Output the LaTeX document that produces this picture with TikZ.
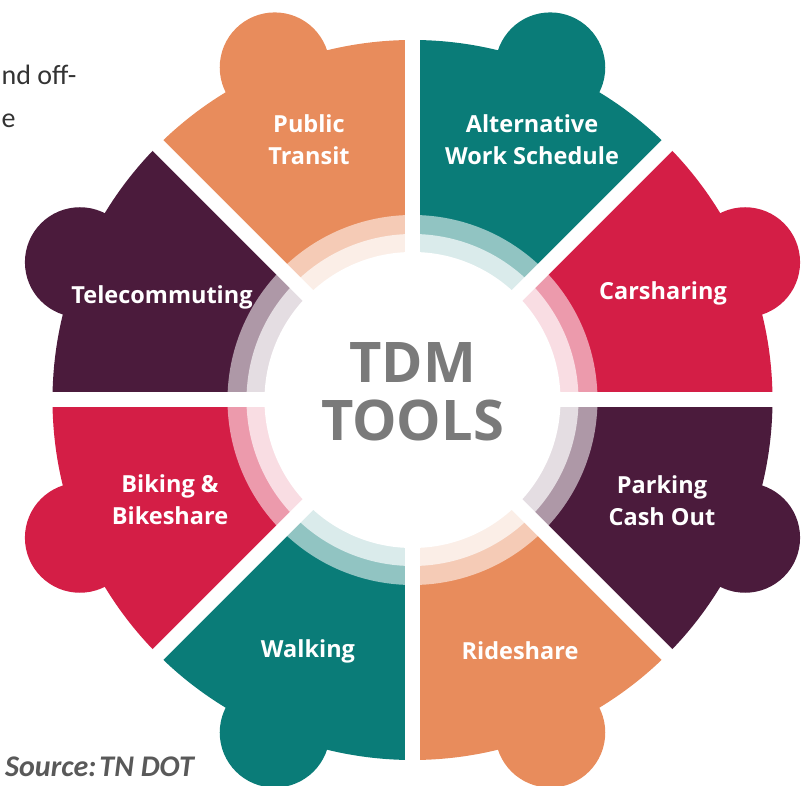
\documentclass[tikz,border=0pt]{standalone}
\usepackage{fontspec}
\setmainfont{Open Sans}
\newfontfamily\pagefont{Carlito}
\usepackage{xcolor}
\usepackage{tikz}
\usetikzlibrary{positioning}
\definecolor{tdmorange}{HTML}{E88C5C}
\definecolor{tdmteal}{HTML}{0A7C78}
\definecolor{tdmred}{HTML}{D41E46}
\definecolor{tdmplum}{HTML}{4B1B3C}
\definecolor{tdmgray}{HTML}{7A7A7A}

\begin{document}
\begin{tikzpicture}[x=1pt,y=1pt,
        tool/.style={text=white,font=\fontsize{23.5}{32}\selectfont\bfseries,align=center},
        hub/.style={text=tdmgray,font=\fontsize{56}{60}\selectfont\bfseries},
        pagetext/.style={anchor=base west,inner sep=0pt,text=black!80,font=\pagefont\fontsize{28}{32}\selectfont}]
        \useasboundingbox (-412.5,-386) rectangle (399.5,400);
        \clip (-412.5,-386) rectangle (399.5,400);
        \foreach \a/\c in {0/tdmred,45/tdmteal,90/tdmorange,135/tdmplum,180/tdmred,225/tdmteal,270/tdmorange,315/tdmplum}{
            \fill[\c] (0,0) -- (\a:360) arc[start angle=\a,delta angle=45,radius=360] -- cycle;
            \fill[\c] (\a+22.5:360) circle (55);
            \fill[\c!45] (0,0) -- (\a:185) arc[start angle=\a,delta angle=45,radius=185] -- cycle;
            \fill[\c!15] (0,0) -- (\a:166) arc[start angle=\a,delta angle=45,radius=166] -- cycle;
        }
        \fill[white] (0,0) circle (148);
        \foreach \a in {0,45,...,315}{\draw[white,line width=15pt] (0,0) -- (\a:440);}
        \node[tool] (transit) at (-103.5,260) {Public\\Transit};
        \node[tool] (altwork) at (119.5,260) {Alternative\\Work Schedule};
        \node[tool] (carshare) at (250.5,107) {Carsharing};
        \node[tool] (telecom) at (-250.5,103) {Telecommuting};
        \node[tool] (biking) at (-242.5,-100) {Biking \&\\Bikeshare};
        \node[tool] (parking) at (249.5,-101) {Parking\\Cash Out};
        \node[tool] (walking) at (-104.5,-251) {Walking};
        \node[tool] (rideshare) at (107.5,-251) {Rideshare};
        \node[hub] (tdm) at (0,37) {TDM};
        \node[hub] (tools) at (0,-20) {TOOLS};
        \node[pagetext] (cutline) at (-411,315) {nd off-};
        \node[pagetext] (cutend) at (-411,272) {e};
        \node[anchor=west,inner sep=0pt,text=black!65,font=\pagefont\fontsize{30}{34}\selectfont\bfseries\itshape] (source) at (-407.5,-367) {Source:\hspace{3pt}TN DOT};
    \end{tikzpicture}
\end{document}
